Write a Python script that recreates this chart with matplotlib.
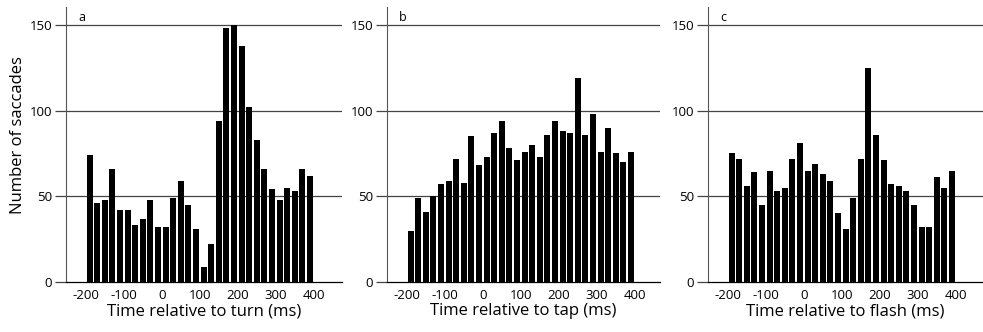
import numpy as np
import matplotlib
matplotlib.use('Agg')
import matplotlib.pyplot as plt

plt.rcParams['font.family'] = ['Open Sans', 'DejaVu Sans']
plt.rcParams['axes.unicode_minus'] = False

# 20 ms bins from -200 to 400 ms
bin_left = np.arange(-200, 400, 20)

turn_counts = [74, 46, 48, 66, 42, 42, 33, 37, 48, 32, 32, 49, 59, 45, 31,
               9, 22, 94, 148, 150, 138, 102, 83, 66, 54, 48, 55, 53, 66, 62]
tap_counts = [30, 49, 41, 50, 57, 59, 72, 58, 85, 68, 73, 87, 94, 78, 71,
              76, 80, 73, 86, 94, 88, 87, 119, 86, 98, 76, 90, 75, 70, 76]
flash_counts = [75, 72, 56, 64, 45, 65, 53, 55, 72, 81, 65, 69, 63, 59, 40,
                31, 49, 72, 125, 86, 71, 57, 56, 53, 45, 32, 32, 61, 55, 65]

panels = [('a', turn_counts, 'Time relative to turn (ms)'),
          ('b', tap_counts, 'Time relative to tap (ms)'),
          ('c', flash_counts, 'Time relative to flash (ms)')]

W, H = 983, 332
fig = plt.figure(figsize=(W / 100, H / 100), dpi=100)

# axes boxes in pixels: (left, right)
boxes = [(66, 342), (387, 660), (708, 983)]
px_per_ms = 0.38
y0_px, ytop_px = 282, 7

for (letter, counts, xlabel), (left, right) in zip(panels, boxes):
    ax = fig.add_axes([left / W, (H - y0_px) / H, (right - left) / W, (y0_px - ytop_px) / H])
    xmin = -252
    xmax = xmin + (right - left) / px_per_ms
    ax.set_xlim(xmin, xmax)
    ax.set_ylim(0, 160.5)

    for g in [50, 100, 150]:
        ax.axhline(g, color='#444444', lw=0.9, zorder=1)

    ax.bar(bin_left + 10, counts, width=15.5, color='black', zorder=2)

    ax.spines['top'].set_visible(False)
    ax.spines['right'].set_visible(False)
    ax.spines['left'].set_color('#555555')
    ax.spines['bottom'].set_linewidth(0.9)

    ax.set_yticks([0, 50, 100, 150])
    ax.set_xticks([-200, -100, 0, 100, 200, 300, 400])
    ax.tick_params(axis='y', direction='out', length=8, width=0.9, color='#444444',
                   labelsize=9.5, pad=2)
    ax.tick_params(axis='x', length=0, labelsize=9.5, pad=5)
    ax.set_xlabel(xlabel, fontsize=12, labelpad=1)
    ax.text(0.045, 0.985, letter, transform=ax.transAxes, fontsize=9, va='top', ha='left')

fig.text(18 / W, 1 - 135 / H, 'Number of saccades', rotation=90, fontsize=12,
         ha='center', va='center')

fig.savefig('out.png', dpi=100)
